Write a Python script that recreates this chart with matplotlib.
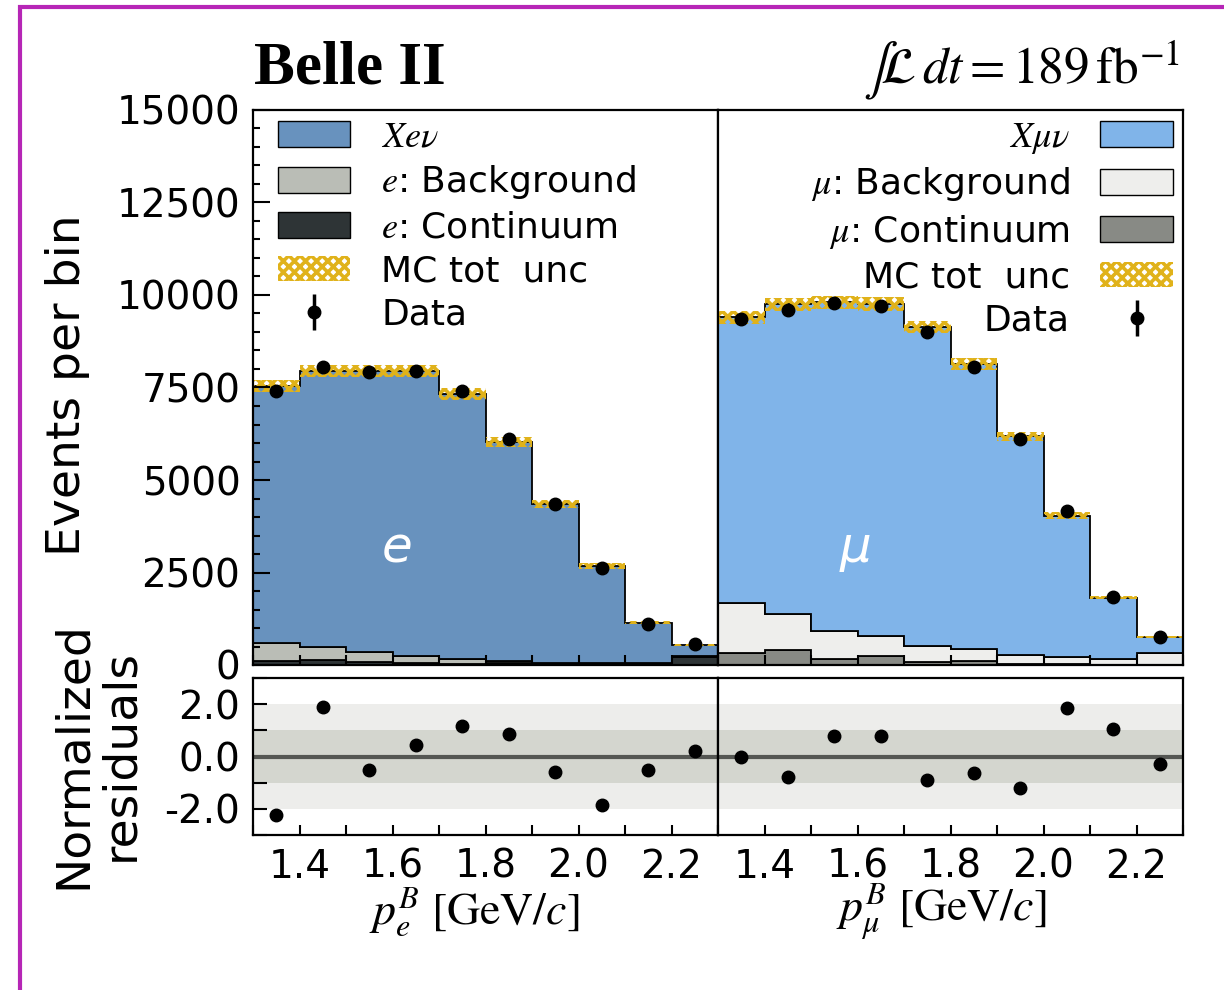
import numpy as np
import matplotlib.pyplot as plt
from matplotlib.patches import Patch, Rectangle
from matplotlib.ticker import MultipleLocator, FormatStrFormatter

plt.rcParams['font.family'] = 'DejaVu Sans'
plt.rcParams['mathtext.fontset'] = 'stix'
plt.rcParams['axes.unicode_minus'] = False
plt.rcParams['hatch.linewidth'] = 2.6
plt.rcParams['hatch.color'] = '#e0b21a'

# ---- Data ----
bin_edges = [1.3, 1.4, 1.5, 1.6, 1.7, 1.8, 1.9, 2.0, 2.1, 2.2, 2.3]
bin_centers = [1.35, 1.45, 1.55, 1.65, 1.75, 1.85, 1.95, 2.05, 2.15, 2.25]

# electron channel
e_cont = [120, 130, 70, 60, 40, 50, 30, 25, 30, 220]
e_bkg = [480, 370, 270, 185, 115, 60, 30, 35, 30, 20]
e_total = [7550, 7950, 7950, 7950, 7320, 6020, 4340, 2680, 1140, 540]
e_unc = [160, 170, 170, 170, 160, 140, 110, 75, 40, 20]
e_data = [7400, 8060, 7930, 7940, 7400, 6100, 4340, 2610, 1110, 560]
e_resid = [-2.25, 1.9, -0.5, 0.45, 1.15, 0.85, -0.6, -1.85, -0.5, 0.2]

# muon channel
mu_cont = [330, 400, 160, 235, 90, 105, 25, 20, 10, 0]
mu_bkg = [1340, 975, 770, 560, 425, 325, 255, 205, 153, 333]
mu_total = [9400, 9750, 9800, 9760, 9130, 8130, 6180, 4040, 1820, 760]
mu_unc = [180, 180, 180, 180, 170, 160, 125, 95, 45, 20]
mu_data = [9350, 9600, 9780, 9690, 9000, 8050, 6120, 4150, 1840, 760]
mu_resid = [0.0, -0.8, 0.8, 0.77, -0.88, -0.62, -1.2, 1.85, 1.05, -0.3]

# ---- Colours ----
C_XENU = '#6892be'
C_XMUNU = '#80b4e9'
C_E_BKG = '#babdb6'
C_E_CONT = '#2e3436'
C_MU_BKG = '#eeeeec'
C_MU_CONT = '#888a85'
GOLD = '#e0b21a'
HATCH = 'xxx'

W, H = 1224, 990
fig = plt.figure(figsize=(W / 100, H / 100), dpi=100)


def box(x0, y0, x1, y1):
    return [x0 / W, 1 - y1 / H, (x1 - x0) / W, (y1 - y0) / H]


ax_e = fig.add_axes(box(253, 110, 718, 665))
ax_m = fig.add_axes(box(718, 110, 1183, 665), sharey=ax_e)
rs_e = fig.add_axes(box(253, 678, 718, 835), sharex=ax_e)
rs_m = fig.add_axes(box(718, 678, 1183, 835), sharex=ax_m)


def draw_stack(ax, cont, bkg, total, unc, data, colors):
    cont = np.array(cont, float)
    bkg = np.array(bkg, float)
    sig = np.array(total, float) - bkg - cont
    base = np.zeros(len(cont))
    for vals, col in zip([cont, bkg, sig], colors):
        top = base + vals
        ax.stairs(top, bin_edges, baseline=base, fill=True,
                  facecolor=col, edgecolor='black', linewidth=1.3)
        base = top
    ax.stairs(base + np.array(unc), bin_edges, baseline=base - np.array(unc),
              fill=True, facecolor='none', edgecolor=GOLD, hatch=HATCH,
              linewidth=0)
    d = np.array(data, float)
    return ax.errorbar(bin_centers, d, yerr=np.sqrt(d), fmt='o', color='black',
                       ms=9, elinewidth=2.5, capsize=0)


eb_e = draw_stack(ax_e, e_cont, e_bkg, e_total, e_unc, e_data,
                  [C_E_CONT, C_E_BKG, C_XENU])
eb_m = draw_stack(ax_m, mu_cont, mu_bkg, mu_total, mu_unc, mu_data,
                  [C_MU_CONT, C_MU_BKG, C_XMUNU])

# residuals
for ax, res in [(rs_e, e_resid), (rs_m, mu_resid)]:
    ax.axhspan(-2, 2, color='#ededeb', lw=0)
    ax.axhspan(-1, 1, color='#d4d6cf', lw=0)
    ax.axhline(0, color='#555753', lw=3)
    ax.plot(bin_centers, res, 'o', color='black', ms=9)
    ax.set_ylim(-3, 3)

# ---- Axes styling ----
for ax in [ax_e, ax_m, rs_e, rs_m]:
    ax.set_xlim(1.3, 2.3)
    ax.xaxis.set_major_locator(MultipleLocator(0.2))
    ax.xaxis.set_minor_locator(MultipleLocator(0.1))
    ax.tick_params(axis='both', which='both', direction='in', labelsize=28,
                   width=1.5, pad=9)
    ax.tick_params(axis='x', which='both', length=7)
    for s in ax.spines.values():
        s.set_linewidth(1.6)

ax_e.set_ylim(0, 15000)
ax_e.yaxis.set_major_locator(MultipleLocator(2500))
ax_e.yaxis.set_minor_locator(MultipleLocator(500))
ax_e.tick_params(axis='y', which='major', length=12)
ax_e.tick_params(axis='y', which='minor', length=5)
ax_m.tick_params(axis='y', which='both', left=False, labelleft=False)
ax_e.tick_params(axis='x', labelbottom=False)
ax_m.tick_params(axis='x', labelbottom=False)

rs_e.yaxis.set_major_locator(MultipleLocator(2))
rs_e.yaxis.set_minor_locator(MultipleLocator(1))
rs_e.yaxis.set_major_formatter(FormatStrFormatter('%.1f'))
rs_e.tick_params(axis='y', which='both', length=10)
rs_m.tick_params(axis='y', which='both', left=False, labelleft=False)
rs_m.set_ylim(-3, 3)

# ---- Legends ----
leg_kw = dict(frameon=False, fontsize=26, handlelength=2.0, handleheight=0.72,
              handletextpad=0.85, labelspacing=0.26, borderpad=0.05,
              borderaxespad=0.07)
h_e = [Patch(facecolor=C_XENU, edgecolor='black'),
       Patch(facecolor=C_E_BKG, edgecolor='black'),
       Patch(facecolor=C_E_CONT, edgecolor='black'),
       Patch(facecolor='none', edgecolor=GOLD, hatch=HATCH, linewidth=0),
       eb_e]
l_e = [r'$Xe\nu$', r'$e$: Background', r'$e$: Continuum', 'MC tot  unc', 'Data']
ax_e.legend(h_e, l_e, loc='upper left', bbox_to_anchor=(0.045, 0.99), **leg_kw)

h_m = [Patch(facecolor=C_XMUNU, edgecolor='black'),
       Patch(facecolor=C_MU_BKG, edgecolor='black'),
       Patch(facecolor=C_MU_CONT, edgecolor='black'),
       Patch(facecolor='none', edgecolor=GOLD, hatch=HATCH, linewidth=0),
       eb_m]
l_m = [r'$X\mu\nu$', r'$\mu$: Background', r'$\mu$: Continuum', 'MC tot  unc', 'Data']
ax_m.legend(h_m, l_m, loc='upper right', bbox_to_anchor=(0.987, 0.99),
            markerfirst=False, **leg_kw)

# ---- Texts ----
ax_e.text(0.31, 0.21, 'e', transform=ax_e.transAxes, color='white',
          fontsize=36, style='italic', ha='center', va='center')
ax_m.text(0.295, 0.21, 'μ', transform=ax_m.transAxes, color='white',
          fontsize=36, style='italic', ha='center', va='center')

fig.text(254 / W, 1 - 69 / H, 'Belle II', family='Liberation Serif',
         weight='bold', fontsize=44, ha='left', va='center')
fig.text(1180 / W, 1 - 70 / H, r'$\int\!\mathcal{L}\,dt = 189\,\mathrm{fb}^{-1}$',
         fontsize=37, ha='right', va='center')

fig.text(68 / W, 1 - 385 / H, 'Events per bin', rotation=90, fontsize=34,
         ha='center', va='center')
fig.text(97 / W, 1 - 755 / H, 'Normalized\nresiduals', rotation=90,
         fontsize=34, ha='center', va='center', linespacing=1.08)

fig.text(474 / W, 1 - 912 / H, r'$p^{B}_{e}\ [\mathrm{GeV}/c]$', fontsize=33,
         ha='center', va='center')
fig.text(941 / W, 1 - 912 / H, r'$p^{B}_{\mu}\ [\mathrm{GeV}/c]$', fontsize=33,
         ha='center', va='center')

# magenta frame
fig.add_artist(Rectangle((20 / W, -0.1), 1.2, 1.1 - 7 / H, transform=fig.transFigure,
                         fill=False, edgecolor='#b626b6', linewidth=3))

fig.savefig('out.png', dpi=100)
